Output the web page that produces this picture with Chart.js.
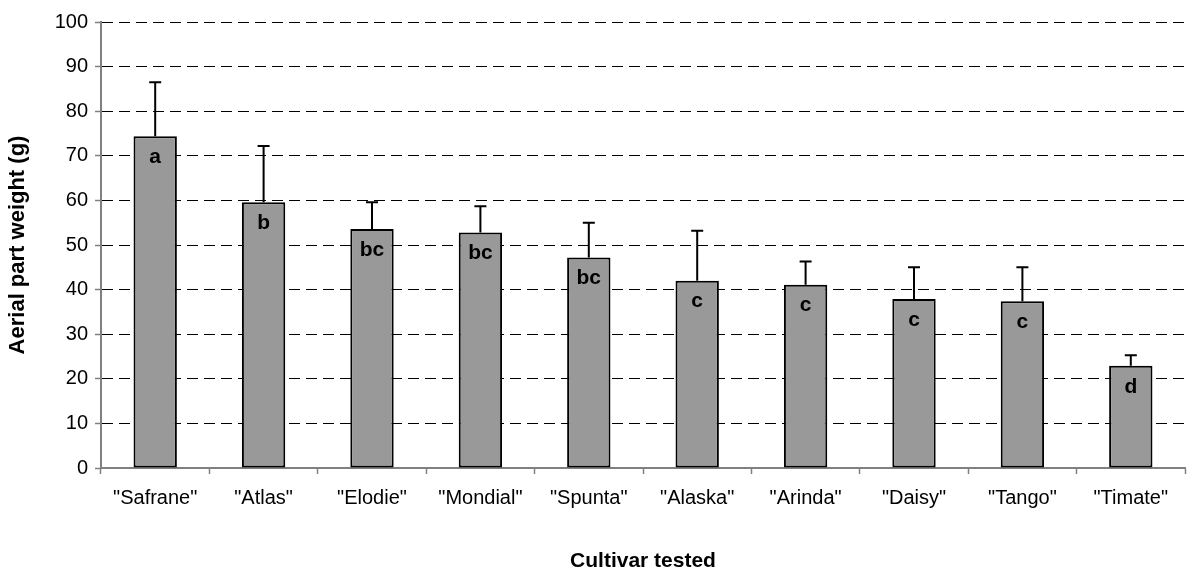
<!DOCTYPE html>
<html>
<head>
<meta charset="utf-8">
<script src="https://cdn.jsdelivr.net/npm/chart.js@4"></script>
<style>
  html, body { margin: 0; padding: 0; background: #fff; }
  #wrap { width: 1194px; height: 572px; }
</style>
</head>
<body>
<div id="wrap"><canvas id="chart" width="1194" height="572"></canvas></div>
<script>
const cultivars = ['"Safrane"', '"Atlas"', '"Elodie"', '"Mondial"', '"Spunta"', '"Alaska"', '"Arinda"', '"Daisy"', '"Tango"', '"Timate"']
const weights = [74.4, 59.6, 53.6, 52.8, 47.2, 42.0, 41.1, 37.9, 37.4, 22.9]
const errorTops = [86.5, 72.2, 59.6, 58.7, 55.0, 53.2, 46.3, 45.0, 45.0, 25.3]
const groups = ["a", "b", "bc", "bc", "bc", "c", "c", "c", "c", "d"]
const yTicks = [0, 10, 20, 30, 40, 50, 60, 70, 80, 90, 100]

const font = "'Liberation Sans', Arial, sans-serif"

// upper whiskers + group letters, placed through the chart scales
const barExtras = {
  id: "barExtras",
  afterDatasetsDraw(chart) {
    const { ctx, scales: { y } } = chart
    const meta = chart.getDatasetMeta(0)
    ctx.save()
    meta.data.forEach((bar, i) => {
      const yTop = y.getPixelForValue(weights[i])
      const yErr = y.getPixelForValue(errorTops[i])
      ctx.strokeStyle = "#000"
      ctx.lineWidth = 2
      ctx.beginPath()
      ctx.moveTo(bar.x, yTop)
      ctx.lineTo(bar.x, yErr)
      ctx.moveTo(bar.x - 6, yErr)
      ctx.lineTo(bar.x + 6, yErr)
      ctx.stroke()

      ctx.fillStyle = "#000"
      ctx.font = "bold 21px " + font
      ctx.textAlign = "center"
      ctx.textBaseline = "middle"
      ctx.fillText(groups[i], bar.x, yTop + 21)
    })
    ctx.restore()
  }
}

new Chart(document.getElementById("chart"), {
  type: "bar",
  data: {
    labels: cultivars,
    datasets: [{
      data: weights,
      backgroundColor: "#999999",
      borderColor: "#000000",
      borderWidth: 2,
      borderSkipped: false,
      barPercentage: 0.4,
      categoryPercentage: 1.0
    }]
  },
  options: {
    responsive: false,
    animation: false,
    devicePixelRatio: 1,
    layout: { padding: { top: 22, right: 9, bottom: 0, left: 0 } },
    plugins: {
      legend: { display: false },
      tooltip: { enabled: false }
    },
    scales: {
      x: {
        offset: true,
        grid: {
          offset: true,
          drawOnChartArea: false,
          tickLength: 6,
          tickColor: "#808080",
          tickWidth: 1.5
        },
        border: { color: "#808080", width: 2 },
        ticks: {
          color: "#000",
          padding: 12,
          maxRotation: 0,
          autoSkip: false,
          font: { family: font, size: 20 }
        },
        title: {
          display: true,
          text: "Cultivar tested",
          color: "#000",
          font: { family: font, size: 21, weight: "bold" },
          padding: { top: 40, bottom: -2 }
        },
        afterFit(scale) { scale.height = 104 }
      },
      y: {
        min: 0,
        max: 100,
        afterBuildTicks(scale) { scale.ticks = yTicks.map(v => ({ value: v })) },
        grid: {
          color: "#000",
          lineWidth: 1,
          tickLength: 6,
          tickColor: "#808080",
          tickWidth: 1.5,
          tickBorderDash: []
        },
        border: { color: "#808080", width: 2, dash: [11, 6] },
        ticks: {
          color: "#000",
          padding: 7,
          font: { family: font, size: 20 }
        },
        title: {
          display: true,
          text: "Aerial part weight (g)",
          color: "#000",
          font: { family: font, size: 22, weight: "bold" },
          padding: { top: 5, bottom: 10 }
        },
        afterFit(scale) { scale.width = 101 }
      }
    }
  },
  plugins: [barExtras]
})
</script>
</body>
</html>
